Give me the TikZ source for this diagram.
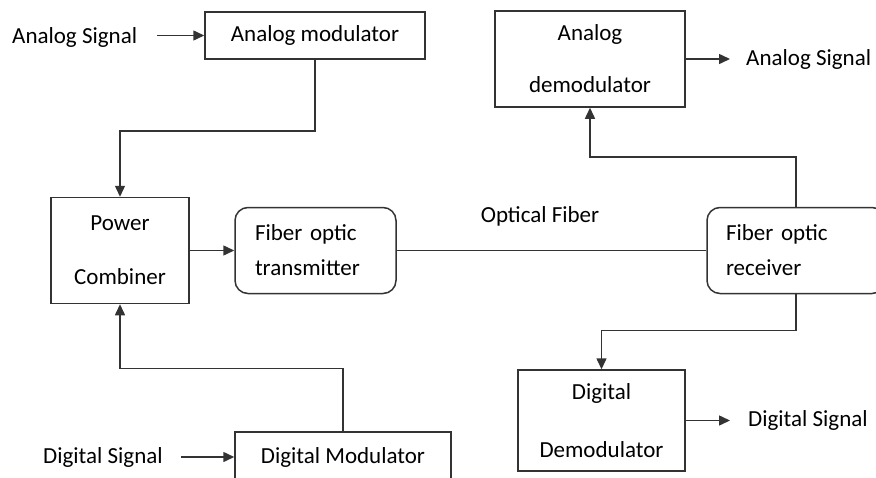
\documentclass[tikz,border=0pt]{standalone}
\usepackage{fontspec}
\setmainfont{Carlito}
\usetikzlibrary{arrows.meta}

\begin{document}
\begin{tikzpicture}[x=1pt,y=-1pt,
  line/.style={draw=black!80, line width=1.5pt},
  arr/.style={line, -{Triangle[length=11pt,width=10pt]}},
  blk/.style={draw=black!80, line width=1.5pt, rectangle, align=center,
              inner sep=0pt, font=\fontsize{23}{28}\selectfont},
  rblk/.style={blk, rounded corners=13pt, align=left},
  lbl/.style={font=\fontsize{23}{28}\selectfont, inner sep=0pt}
]
\useasboundingbox (0,0) rectangle (876,477);
\clip (0,0) rectangle (876,477);

% transmitter side
\node[blk, minimum width=220pt, minimum height=47pt] (am) at (315,35.5) {Analog modulator};
\node[lbl, anchor=west] (asin) at (12,37) {Analog Signal};
\draw[arr] ([xshift=20pt]asin.east |- am.west) -- (am.west);

\node[blk, minimum width=138pt, minimum height=106pt] (pc) at (120,250.5) {Power\\[26pt]Combiner};
\draw[arr] (am.south) -- ++(0,71) -| (pc.north);

\node[blk, minimum width=216pt, minimum height=50pt] (dm) at (343,457) {Digital Modulator};
\node[lbl, anchor=west] (dsi) at (43,457) {Digital Signal};
\draw[arr] ([xshift=18pt]dsi.east |- dm.west) -- (dm.west);
\draw[arr] (dm.north) -- ++(0,-63) -| (pc.south);

\node[rblk, text width=121pt, inner xsep=20pt, minimum height=86pt] (ftx) at (315.5,250.5) {Fiber optic\\[7pt]transmitter};
\draw[arr] (pc.east) -- (ftx.west);

% fiber link
\node[rblk, text width=140pt, inner xsep=19pt, minimum height=86pt] (frx) at (796,250.5) {Fiber optic\\[7pt]receiver};
\draw[line] (ftx.east) -- (frx.west);
\node[lbl] (of) at (540,216) {Optical Fiber};

% receiver side
\node[blk, minimum width=190pt, minimum height=96pt] (ad) at (590,59) {Analog\\[24pt]demodulator};
\draw[arr] (frx.north) -- ++(0,-50) -| (ad.south);
\node[lbl, anchor=west] (aso) at (746,59) {Analog Signal};
\draw[arr] (ad.east) -- ([xshift=-16pt]aso.west |- ad.east);

\node[blk, minimum width=167pt, minimum height=101pt] (dd) at (601.5,420.5) {Digital\\[30pt]Demodulator};
\draw[arr] (frx.south) -- ++(0,36) -| (dd.north);
\node[lbl, anchor=west] (dso) at (748,420.5) {Digital Signal};
\draw[arr] (dd.east) -- ([xshift=-18pt]dso.west |- dd.east);
\end{tikzpicture}
\end{document}
